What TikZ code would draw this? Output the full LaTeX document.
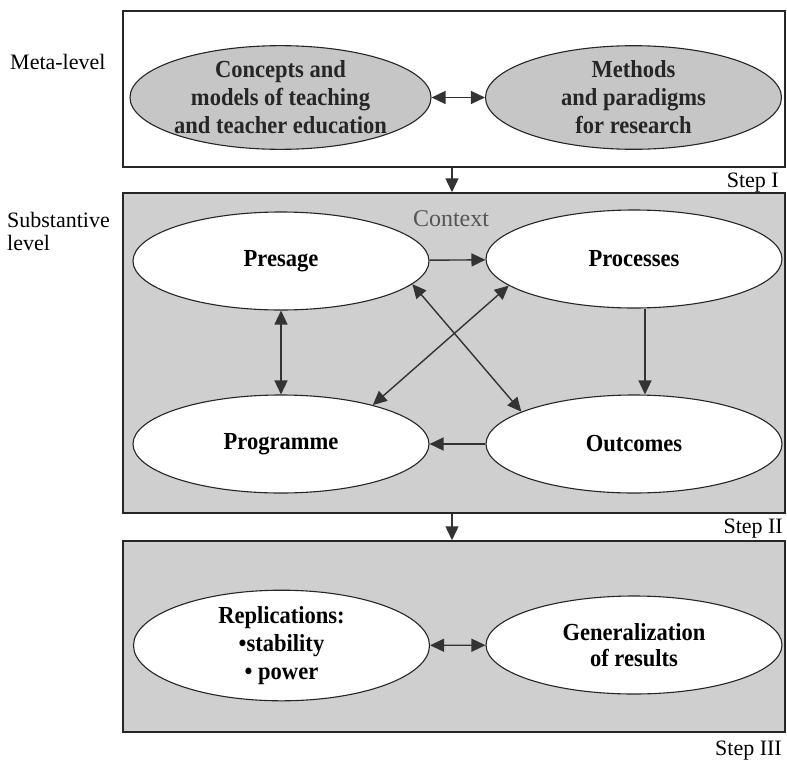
\documentclass[tikz,border=0pt]{standalone}
\usepackage{fontspec}
\setmainfont{Liberation Serif}
\newfontfamily\ellfont{Liberation Serif}[FakeStretch=0.92]
\usetikzlibrary{shapes.geometric,arrows.meta}
\definecolor{boxgray}{HTML}{CFCFCF}
\definecolor{metagray}{HTML}{C6C6C6}
\definecolor{ctxgray}{HTML}{555555}
\tikzset{
  levelbox/.style={draw=black!85, line width=1.5pt, rectangle, inner sep=0pt},
  ell/.style={draw=black!85, line width=1.1pt, ellipse, inner sep=0pt,
    minimum width=296pt, minimum height=98pt, align=center,
    font=\ellfont\fontsize{24.5}{28}\selectfont\bfseries},
  metaell/.style={ell, fill=metagray, text=black!85, minimum height=101pt},
  subell/.style={ell, fill=white},
  tip/.tip={Triangle[length=14pt,width=13pt]},
  conn/.style={line width=1.4pt, draw=black!80, -tip},
  bconn/.style={conn, tip-tip},
  sidelabel/.style={font=\fontsize{22}{24}\selectfont, anchor=west, align=left, inner sep=0pt},
  steplabel/.style={font=\fontsize{22}{24}\selectfont, anchor=east, inner sep=0pt}
}
\begin{document}
\begin{tikzpicture}[x=1pt, y=-1pt]
\useasboundingbox (0,0) rectangle (787,763);
% level boxes
\node[levelbox, fill=white, minimum width=662pt, minimum height=156pt] (box1) at (454,89) {};
\node[levelbox, fill=boxgray, minimum width=662pt, minimum height=320pt] (box2) at (454,353) {};
\node[levelbox, fill=boxgray, minimum width=662pt, minimum height=191pt] (box3) at (454,636.5) {};
% side labels
\node[sidelabel] (meta) at (10,62) {Meta-level};
\node[sidelabel] (subst) at (7,220) {Substantive};
\node[sidelabel] (substb) at (7,243) {level};
% step labels
\node[steplabel] (s1) at (779,183) {Step I};
\node[steplabel] (s2) at (783,529) {Step II};
\node[steplabel] (s3) at (782,751) {Step III};
% meta level
\node[metaell] (conc) at (280.5,97.5) {Concepts and\\models of teaching\\and teacher education};
\node[metaell] (meth) at (633.5,97.5) {Methods\\and paradigms\\for research};
\draw[bconn] (conc) -- (meth);
% substantive level
\node[font=\fontsize{24}{26}\selectfont, text=ctxgray, inner sep=0pt] (ctx) at (451,219) {Context};
\node[subell] (pres) at (281,261) {Presage};
\node[subell] (proc) at (634,259) {Processes};
\node[subell] (prog) at (281,444) {Programme};
\node[subell] (outc) at (634,444) {Outcomes};
\draw[conn] (pres) -- (proc);
\draw[conn] (outc) -- (prog);
\draw[bconn] (pres) -- (prog);
\draw[conn] ([xshift=11pt]proc.south) -- ([xshift=11pt]outc.north);
\draw[bconn] (pres.-10.6) -- (outc.164.6);
\draw[bconn] (proc.-168.4) -- (prog.23.6);
% generalization level
\node[subell] (repl) at (281.5,645.5) {Replications:\\•stability\\• power};
\node[subell, font=\ellfont\fontsize{24.5}{26}\selectfont\bfseries] (gen) at (634,645) {Generalization\\of results};
\draw[bconn] (repl) -- (gen);
% between levels
\draw[conn] ([xshift=-2pt]box1.south) -- ([xshift=-2pt]box2.north);
\draw[conn] ([xshift=-2pt]box2.south) -- ([xshift=-2pt]box3.north);
\end{tikzpicture}
\end{document}
